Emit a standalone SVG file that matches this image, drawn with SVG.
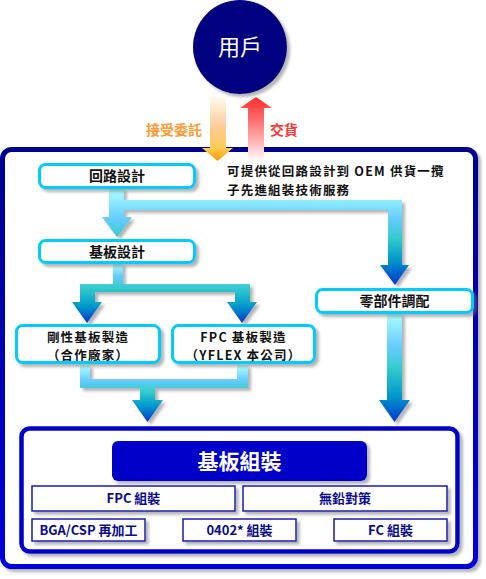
<svg xmlns="http://www.w3.org/2000/svg" width="486" height="579" viewBox="0 0 486 579">
<defs>
<style>
.cj{font-family:"Noto Sans CJK TC","Noto Sans CJK SC","Liberation Sans",sans-serif;font-weight:bold}
.bx{fill:#fff;stroke:#00ccff;stroke-width:3}
.bt{font-size:14px;fill:#111;text-anchor:middle}
.b2{font-size:12.5px;letter-spacing:1.2px}
.sb{fill:#fff;stroke:#1a1ab8;stroke-width:1.5}
.st{font-size:13px;fill:#0a0a90;text-anchor:middle}
</style>
<filter id="sh" x="-10%" y="-10%" width="130%" height="140%">
<feDropShadow dx="3" dy="3" stdDeviation="1.5" flood-color="#777" flood-opacity="0.55"/>
</filter>
<linearGradient id="fr" x1="0" y1="0" x2="0" y2="1">
<stop offset="0" stop-color="#000090"/><stop offset="1" stop-color="#0000dd"/>
</linearGradient>
<linearGradient id="g1" gradientUnits="userSpaceOnUse" x1="0" y1="190" x2="0" y2="286">
<stop offset="0" stop-color="#a8ffff"/><stop offset="0.3" stop-color="#66ccff"/><stop offset="0.5" stop-color="#33cccc"/><stop offset="0.72" stop-color="#0099cc"/><stop offset="1" stop-color="#0033cc"/>
</linearGradient>
<linearGradient id="g2" gradientUnits="userSpaceOnUse" x1="0" y1="264" x2="0" y2="324">
<stop offset="0" stop-color="#a8ffff"/><stop offset="0.2" stop-color="#66ccff"/><stop offset="0.4" stop-color="#33cccc"/><stop offset="0.7" stop-color="#0099cc"/><stop offset="1" stop-color="#0033cc"/>
</linearGradient>
<linearGradient id="g3" gradientUnits="userSpaceOnUse" x1="0" y1="314" x2="0" y2="423">
<stop offset="0" stop-color="#a8ffff"/><stop offset="0.3" stop-color="#66ccff"/><stop offset="0.5" stop-color="#33cccc"/><stop offset="0.75" stop-color="#0099cc"/><stop offset="1" stop-color="#0033cc"/>
</linearGradient>
<linearGradient id="g4" gradientUnits="userSpaceOnUse" x1="0" y1="366" x2="0" y2="423">
<stop offset="0" stop-color="#a8ffff"/><stop offset="0.25" stop-color="#66ccff"/><stop offset="0.45" stop-color="#33cccc"/><stop offset="0.7" stop-color="#0099cc"/><stop offset="1" stop-color="#0033cc"/>
</linearGradient>
<linearGradient id="go" gradientUnits="userSpaceOnUse" x1="0" y1="97" x2="0" y2="161">
<stop offset="0" stop-color="#fffbee"/><stop offset="0.45" stop-color="#ffcc99"/><stop offset="0.8" stop-color="#ffcc55"/><stop offset="1" stop-color="#ff9900"/>
</linearGradient>
<linearGradient id="gr" gradientUnits="userSpaceOnUse" x1="0" y1="97" x2="0" y2="161">
<stop offset="0" stop-color="#ff2a2a"/><stop offset="0.4" stop-color="#ff7777"/><stop offset="0.8" stop-color="#ffcccc"/><stop offset="1" stop-color="#ffffff"/>
</linearGradient>
</defs>
<rect width="486" height="579" fill="#fff"/>

<g id="frame">
<rect x="2.5" y="149.5" width="473" height="417" rx="9" fill="#fff" stroke="url(#fr)" stroke-width="5" filter="url(#sh)"/>
</g>

<g id="user">
<circle cx="240" cy="47" r="47" fill="#000080" filter="url(#sh)"/>
<text class="cj" x="240" y="55" font-size="22" fill="#fff" text-anchor="middle" style="font-weight:normal">用戶</text>
</g>

<g id="connectors">
<path d="M210,97 H226 V148 H233 L217.5,161 L202,148 H210 Z" fill="url(#go)"/>
<path d="M256,97 L272,108 H264 V160 H248 V108 H240 Z" fill="url(#gr)"/>
<path d="M109,188 H124 V200 H402 V265 H409 L395,285 L380,265 H388 V210 H124 V217 H132 L117,237 L102,217 H109 Z" fill="url(#g1)" filter="url(#sh)"/>
<path d="M113,263 H123 V284 H250 V302 H257 L242,323 L227,302 H235 V292 H95 V302 H102 L87,323 L72,302 H80 V284 H113 Z" fill="url(#g2)" filter="url(#sh)"/>
<path d="M387,313 H402 V400 H410 L394.5,422 L379,400 H387 Z" fill="url(#g3)" filter="url(#sh)"/>
<path d="M80,365 H90 V379 H237 V365 H248 V388 H155 V400 H163 L147.5,422 L132,400 H140 V388 H80 Z" fill="url(#g4)" filter="url(#sh)"/>
<text class="cj" x="174" y="135" font-size="14" fill="#ff9933" text-anchor="middle">接受委託</text>
<text class="cj" x="284" y="135" font-size="14" fill="#ff3333" text-anchor="middle">交貨</text>
</g>

<g id="note">
<text class="cj" x="227" y="176" font-size="12.5" letter-spacing="1.2" fill="#111">可提供從回路設計到 OEM 供貨一攬</text>
<text class="cj" x="227" y="194.5" font-size="12.5" letter-spacing="1.2" fill="#111">子先進組裝技術服務</text>
</g>

<g id="circuit-design">
<rect class="bx" x="39.5" y="164.5" width="155" height="23" rx="6" filter="url(#sh)"/>
<text class="cj bt" x="117" y="181">回路設計</text>
</g>

<g id="board-design">
<rect class="bx" x="39.5" y="240.5" width="155" height="22" rx="6" filter="url(#sh)"/>
<text class="cj bt" x="117" y="256.5">基板設計</text>
</g>

<g id="parts">
<rect class="bx" x="316.5" y="289.5" width="156" height="23" rx="6" filter="url(#sh)"/>
<text class="cj bt" x="394.5" y="306">零部件調配</text>
</g>

<g id="rigid">
<rect class="bx" x="16.5" y="325.5" width="143" height="37" rx="6" filter="url(#sh)"/>
<text class="cj bt b2" x="88" y="341.5">剛性基板製造</text>
<text class="cj bt b2" x="88" y="359.5">（合作廠家）</text>
</g>

<g id="fpc">
<rect class="bx" x="172.5" y="325.5" width="142" height="37" rx="6" filter="url(#sh)"/>
<text class="cj bt b2" x="243.5" y="341.5">FPC 基板製造</text>
<text class="cj bt b2" x="243.5" y="359.5">（YFLEX 本公司）</text>
</g>

<g id="assembly">
<rect x="21.5" y="428.5" width="436" height="123" rx="8" fill="#fff" stroke="#0000cc" stroke-width="4.5" filter="url(#sh)"/>
<rect x="112" y="441" width="255" height="40" rx="6" fill="#0000c8" filter="url(#sh)"/>
<text class="cj" x="239.5" y="469" font-size="21" fill="#fff" text-anchor="middle">基板組裝</text>
</g>

<g id="fpc-asm">
<rect class="sb" x="32" y="486" width="203" height="25" filter="url(#sh)"/>
<text class="cj st" x="133.5" y="503">FPC 組裝</text>
</g>
<g id="leadfree">
<rect class="sb" x="243" y="486" width="204" height="25" filter="url(#sh)"/>
<text class="cj st" x="345" y="503">無鉛對策</text>
</g>
<g id="bga">
<rect class="sb" x="32" y="519" width="113" height="22" filter="url(#sh)"/>
<text class="cj st" x="88.5" y="535">BGA/CSP 再加工</text>
</g>
<g id="c0402">
<rect class="sb" x="183" y="519" width="113" height="22" filter="url(#sh)"/>
<text class="cj st" x="239.5" y="535">0402* 組裝</text>
</g>
<g id="fc">
<rect class="sb" x="334" y="519" width="113" height="22" filter="url(#sh)"/>
<text class="cj st" x="390.5" y="535">FC 組裝</text>
</g>
</svg>
